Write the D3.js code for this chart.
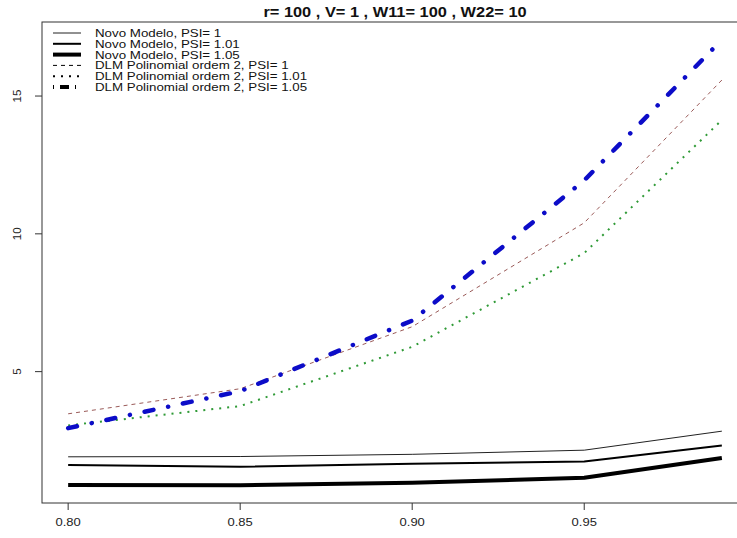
<!DOCTYPE html>
<html>
<head>
<meta charset="utf-8">
<script src="https://cdn.jsdelivr.net/npm/d3@7"></script>
<style>
  body { margin: 0; background: #fff; }
  svg { display: block; font-family: "Liberation Sans", Arial, sans-serif; }
</style>
</head>
<body>
<svg id="chart" width="737" height="538"></svg>
<script>
// values
const xValues = [0.80, 0.85, 0.90, 0.95, 0.99]
const novoPsi1 = [1.91, 1.92, 2.00, 2.15, 2.84]
const novoPsi101 = [1.61, 1.55, 1.66, 1.74, 2.32]
const novoPsi105 = [0.89, 0.88, 0.97, 1.15, 1.87]
const dlmPsi1 = [3.47, 4.38, 6.63, 10.40, 15.58]
const dlmPsi101 = [3.05, 3.75, 5.90, 9.30, 14.13]
const dlmPsi105 = [2.95, 4.29, 6.85, 11.94, 17.04]
const seriesNames = [
    'Novo Modelo, PSI= 1',
    'Novo Modelo, PSI= 1.01',
    'Novo Modelo, PSI= 1.05',
    'DLM Polinomial ordem 2, PSI= 1',
    'DLM Polinomial ordem 2, PSI= 1.01',
    'DLM Polinomial ordem 2, PSI= 1.05'
]
const xTicks = [0.80, 0.85, 0.90, 0.95]
const yTicks = [5, 10, 15]
const title = 'r= 100 , V= 1 , W11= 100 , W22= 10'

// line styles, same order as seriesNames
const styles = [
    {color: '#222', width: 1, dash: null, cap: 'butt'},
    {color: '#000', width: 2, dash: null, cap: 'butt'},
    {color: '#000', width: 4, dash: null, cap: 'butt'},
    {color: '#9a5a58', width: 1, dash: '4,4', cap: 'butt'},
    {color: '#2f9a36', width: 2, dash: '2,6', cap: 'butt'},
    {color: '#0c0cc8', width: 4.5, dash: '9,15,0.1,15', cap: 'round'}
]
const STRETCH = 1.13

const allSeries = [novoPsi1, novoPsi101, novoPsi105, dlmPsi1, dlmPsi101, dlmPsi105]
const svg = d3.select('#chart')
const box = {left: 42, top: 22, right: 748, bottom: 503}

// R style axis limits: data range plus 4% each side
const pad = (lo, hi) => { const r = hi - lo; return [lo - 0.04 * r, hi + 0.04 * r] }
const allY = allSeries.flat()
const x = d3.scaleLinear().domain(pad(d3.min(xValues), d3.max(xValues))).range([box.left, box.right])
const y = d3.scaleLinear().domain(pad(d3.min(allY), d3.max(allY))).range([box.bottom, box.top])

const stretchText = (sel, tx, ty) => sel.attr('transform', `translate(${tx},${ty}) scale(${STRETCH},1)`)

// series
const line = d3.line().x((d, i) => x(xValues[i])).y((d) => y(d))
allSeries.forEach((vals, i) => {
    const s = styles[i]
    svg.append('path')
        .datum(vals)
        .attr('d', line)
        .attr('fill', 'none')
        .attr('stroke', s.color)
        .attr('stroke-width', s.width)
        .attr('stroke-dasharray', s.dash)
        .attr('stroke-linecap', s.cap)
        .attr('stroke-linejoin', 'round')
})

// frame
svg.append('rect')
    .attr('x', box.left).attr('y', box.top)
    .attr('width', box.right - box.left).attr('height', box.bottom - box.top)
    .attr('fill', 'none').attr('stroke', '#333').attr('stroke-width', 1)

// x axis
const xAxis = svg.append('g')
xAxis.selectAll('line').data(xTicks).enter().append('line')
    .attr('x1', (d) => x(d)).attr('x2', (d) => x(d))
    .attr('y1', box.bottom).attr('y2', box.bottom + 7)
    .attr('stroke', '#333')
xAxis.selectAll('text').data(xTicks).enter().append('text')
    .each(function (d) { stretchText(d3.select(this), x(d), 526) })
    .attr('text-anchor', 'middle')
    .attr('font-size', 11.5)
    .attr('fill', '#222')
    .text((d) => d3.format('.2f')(d))

// y axis
const yAxis = svg.append('g')
yAxis.selectAll('line').data(yTicks).enter().append('line')
    .attr('x1', box.left - 7).attr('x2', box.left)
    .attr('y1', (d) => y(d)).attr('y2', (d) => y(d))
    .attr('stroke', '#333')
yAxis.selectAll('text').data(yTicks).enter().append('text')
    .attr('transform', (d) => `translate(21,${y(d)}) rotate(-90)`)
    .attr('text-anchor', 'middle')
    .attr('font-size', 11.5)
    .attr('fill', '#222')
    .text((d) => d)

// title
svg.append('text')
    .call(stretchText, (box.left + box.right) / 2, 17)
    .attr('text-anchor', 'middle')
    .attr('font-size', 14.5)
    .attr('font-weight', 'bold')
    .attr('fill', '#111')
    .text(title)

// legend (samples drawn in black like the original)
const legend = svg.append('g')
seriesNames.forEach((name, i) => {
    const s = styles[i]
    const ly = 33 + i * 10.8
    legend.append('line')
        .attr('x1', 53).attr('x2', 81)
        .attr('y1', ly).attr('y2', ly)
        .attr('stroke', i === 0 ? '#222' : '#000')
        .attr('stroke-width', Math.min(s.width, 4))
        .attr('stroke-dasharray', i === 5 ? '1,6,9,6' : s.dash)
        .attr('stroke-linecap', 'butt')
    legend.append('text')
        .call(stretchText, 95, ly + 4)
        .attr('font-size', 11.8)
        .attr('fill', '#111')
        .text(name)
})
</script>
</body>
</html>
